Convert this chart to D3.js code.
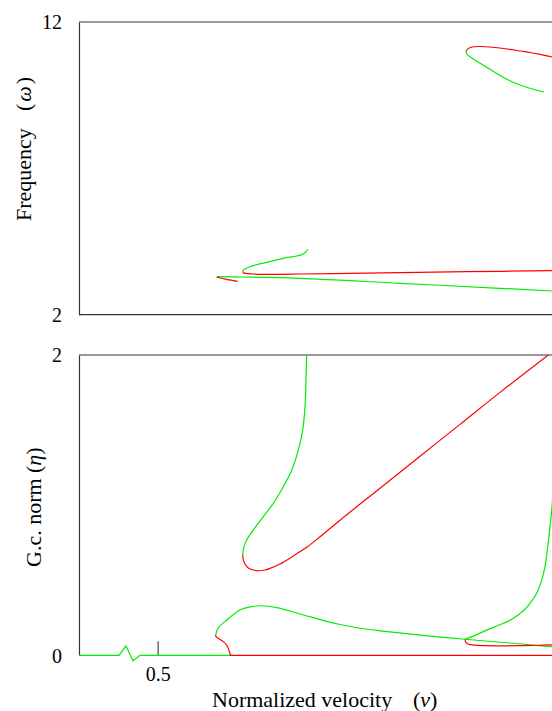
<!DOCTYPE html>
<html>
<head>
<meta charset="utf-8">
<script src="https://cdn.jsdelivr.net/npm/d3@7"></script>
<style>
  html, body { margin: 0; padding: 0; background: #fff; }
  svg { display: block; }
  text { font-family: "Liberation Serif", "Times New Roman", serif; fill: #000; }
</style>
</head>
<body>
<svg id="chart" width="552" height="711"></svg>
<script>
// ---------- data (v = normalized velocity) ----------
const xTicks = [0.5];
const yTopTicks = [2, 12];
const yBotTicks = [0, 2];

// Top panel: frequency (omega)
const topRedUpper = [[1.2839,11.009],[1.2890,11.09],[1.2992,11.146],[1.3195,11.163],[1.3449,11.146],[1.3703,11.112],[1.3958,11.067],[1.4212,11.009],[1.4466,10.958],[1.4720,10.896],[1.5025,10.804],[1.55,10.68]];
const topGreenUpper = [[1.2839,11.009],[1.2857,10.907],[1.2941,10.815],[1.3025,10.736],[1.3195,10.589],[1.3449,10.384],[1.3881,10.042],[1.4288,9.813],[1.4822,9.608]];
const topGreenShort = [[0.8814,4.234],[0.8771,4.152],[0.8703,4.074],[0.8535,4.005],[0.8194,3.927],[0.7772,3.790],[0.7347,3.640],[0.7203,3.551],[0.7162,3.483]];
const topRedLong = [[0.7162,3.483],[0.7177,3.435],[0.7431,3.390],[0.7772,3.380],[0.8619,3.390],[0.9890,3.414],[1.1161,3.435],[1.2857,3.469],[1.4975,3.503],[1.55,3.512]];
const topGreenLong = [[0.6501,3.298],[0.7169,3.288],[0.8619,3.244],[1.1161,3.073],[1.3703,2.902],[1.5025,2.810],[1.55,2.78]];
const topRedShort = [[0.6501,3.288],[0.6755,3.209],[0.7035,3.141]];

// Bottom panel: G.c. norm (eta)
const botGreenBase = [[0.300,0],[0.4017,0],[0.4195,0.062],[0.4373,-0.036],[0.4551,0],[0.6839,0]];
const botRedBase = [[0.6839,0],[1.55,0]];
const botRedSmall = [[0.6857,0],[0.6821,0.024],[0.6796,0.047],[0.6737,0.073],[0.6669,0.091],[0.6542,0.113],[0.6483,0.124],[0.6476,0.135]];
const botGreenLoop = [[0.6476,0.135],[0.6534,0.180],[0.6755,0.235],[0.7093,0.302],[0.7347,0.322],[0.7602,0.330],[0.8026,0.317],[0.8619,0.275],[0.9298,0.226],[0.9636,0.205],[1.0144,0.180],[1.0653,0.163],[1.1669,0.135],[1.2814,0.107],[1.3958,0.082],[1.5025,0.057],[1.55,0.05]];
const botRedRight = [[1.2814,0.107],[1.2839,0.084],[1.2941,0.071],[1.3365,0.064],[1.4212,0.064],[1.5025,0.069],[1.55,0.07]];
const botGreenRight = [[1.2814,0.107],[1.3111,0.138],[1.3365,0.168],[1.3788,0.213],[1.4042,0.246],[1.4297,0.297],[1.4466,0.346],[1.4636,0.413],[1.4763,0.501],[1.4847,0.590],[1.4915,0.723],[1.4975,0.857],[1.5025,0.990],[1.507,1.2]];
const botRedDiag = [[0.7162,0.672],[0.7177,0.635],[0.7220,0.608],[0.7304,0.581],[0.7431,0.568],[0.7559,0.563],[0.7729,0.568],[0.7856,0.579],[0.8110,0.608],[0.8448,0.662],[0.8789,0.719],[0.9127,0.789],[0.9636,0.900],[1.0653,1.113],[1.1669,1.326],[1.2686,1.538],[1.3703,1.751],[1.4932,2.0]];
const botGreenUp = [[0.7162,0.672],[0.7195,0.723],[0.7263,0.768],[0.7431,0.835],[0.7685,0.923],[0.7940,1.012],[0.8194,1.123],[0.8408,1.234],[0.8575,1.367],[0.8687,1.500],[0.8746,1.656],[0.8771,1.833],[0.8789,2.0]];

const RED = "#ff0000", GREEN = "#00ee00";
const topSeries = [
  {d: topRedUpper, c: RED}, {d: topGreenUpper, c: GREEN},
  {d: topGreenShort, c: GREEN}, {d: topRedLong, c: RED},
  {d: topGreenLong, c: GREEN}, {d: topRedShort, c: RED}
];
const botSeries = [
  {d: botGreenBase, c: GREEN, linear: true}, {d: botRedBase, c: RED, linear: true}, {d: botRedSmall, c: RED},
  {d: botGreenLoop, c: GREEN}, {d: botRedRight, c: RED}, {d: botGreenRight, c: GREEN},
  {d: botRedDiag, c: RED}, {d: botGreenUp, c: GREEN}
];

// ---------- layout ----------
const svg = d3.select("#chart");
const left = 79, right = 570.7;
const x = d3.scaleLinear().domain([0.3, 1.55]).range([left, right]);
const yTop = d3.scaleLinear().domain([2, 12]).range([314.7, 22]);
const yBot = d3.scaleLinear().domain([0, 2]).range([655.3, 355]);

const defs = svg.append("defs");
defs.append("clipPath").attr("id", "clipTop").append("rect")
  .attr("x", left).attr("y", yTop(12)).attr("width", right - left).attr("height", yTop(2) - yTop(12));
defs.append("clipPath").attr("id", "clipBot").append("rect")
  .attr("x", left).attr("y", yBot(2)).attr("width", right - left).attr("height", yBot(0) - yBot(2) + 8);

const frameColor = "#333";

// top frame
svg.append("line").attr("x1", left).attr("x2", right).attr("y1", yTop(12)).attr("y2", yTop(12))
  .attr("stroke", frameColor).attr("stroke-width", 1.2);
svg.append("line").attr("x1", left).attr("x2", right).attr("y1", yTop(2)).attr("y2", yTop(2))
  .attr("stroke", frameColor).attr("stroke-width", 1.2);
// bottom frame top
svg.append("line").attr("x1", left).attr("x2", right).attr("y1", yBot(2)).attr("y2", yBot(2))
  .attr("stroke", frameColor).attr("stroke-width", 1.2);

// y axes
const gTop = svg.append("g").attr("transform", `translate(${left},0)`)
  .call(d3.axisLeft(yTop).tickValues(yTopTicks).tickSize(0).tickPadding(17).tickFormat(d3.format("d")));
const gBot = svg.append("g").attr("transform", `translate(${left},0)`)
  .call(d3.axisLeft(yBot).tickValues(yBotTicks).tickSize(0).tickPadding(17).tickFormat(d3.format("d")));
[gTop, gBot].forEach(g => {
  g.select(".domain").attr("stroke", frameColor).attr("stroke-width", 1.2);
  g.selectAll("text").attr("font-family", "Liberation Serif, serif").attr("font-size", 20).attr("dy", "0.34em").attr("fill", "#000");
});

// x axis (bottom panel) - inward tick
const gX = svg.append("g").attr("transform", `translate(0,${yBot(0)})`)
  .call(d3.axisBottom(x).tickValues(xTicks).tickSizeInner(-14).tickSizeOuter(0).tickPadding(12).tickFormat(d3.format(".1f")));
gX.select(".domain").remove();
gX.selectAll(".tick line").attr("stroke", "#555").attr("stroke-width", 1.3);
gX.selectAll("text").attr("font-family", "Liberation Serif, serif").attr("font-size", 20).attr("fill", "#000");

// curves
const smooth = d3.curveCatmullRom.alpha(0.5);
const lineTop = d3.line().x(d => x(d[0])).y(d => yTop(d[1])).curve(smooth);
const lineBotS = d3.line().x(d => x(d[0])).y(d => yBot(d[1])).curve(smooth);
const lineBotL = d3.line().x(d => x(d[0])).y(d => yBot(d[1]));

svg.append("g").attr("clip-path", "url(#clipTop)").selectAll("path").data(topSeries).join("path")
  .attr("d", s => lineTop(s.d)).attr("fill", "none").attr("stroke", s => s.c).attr("stroke-width", 1.2);
svg.append("g").attr("clip-path", "url(#clipBot)").selectAll("path").data(botSeries).join("path")
  .attr("d", s => (s.linear ? lineBotL : lineBotS)(s.d)).attr("fill", "none").attr("stroke", s => s.c).attr("stroke-width", 1.2);

// axis titles
svg.append("text").attr("x", 212).attr("y", 707).attr("font-size", 22).text("Normalized velocity");
const xt2 = svg.append("text").attr("x", 413).attr("y", 707).attr("font-size", 22);
xt2.append("tspan").text("(");
xt2.append("tspan").attr("font-style", "italic").text("v");
xt2.append("tspan").text(")");

svg.append("text").attr("transform", "translate(31,221) rotate(-90)").attr("font-size", 22).text("Frequency");
const yt1 = svg.append("text").attr("transform", "translate(31,111) rotate(-90)").attr("font-size", 22);
yt1.append("tspan").text("(");
yt1.append("tspan").attr("font-style", "italic").attr("dx", 2).attr("dy", 0).text("ω");
yt1.append("tspan").attr("dx", 2).text(")");

svg.append("text").attr("transform", "translate(41,567) rotate(-90)").attr("font-size", 22).text("G.c. norm");
const yt2 = svg.append("text").attr("transform", "translate(41,473) rotate(-90)").attr("font-size", 22);
yt2.append("tspan").text("(");
yt2.append("tspan").attr("font-style", "italic").text("η");
yt2.append("tspan").text(")");
</script>
</body>
</html>
